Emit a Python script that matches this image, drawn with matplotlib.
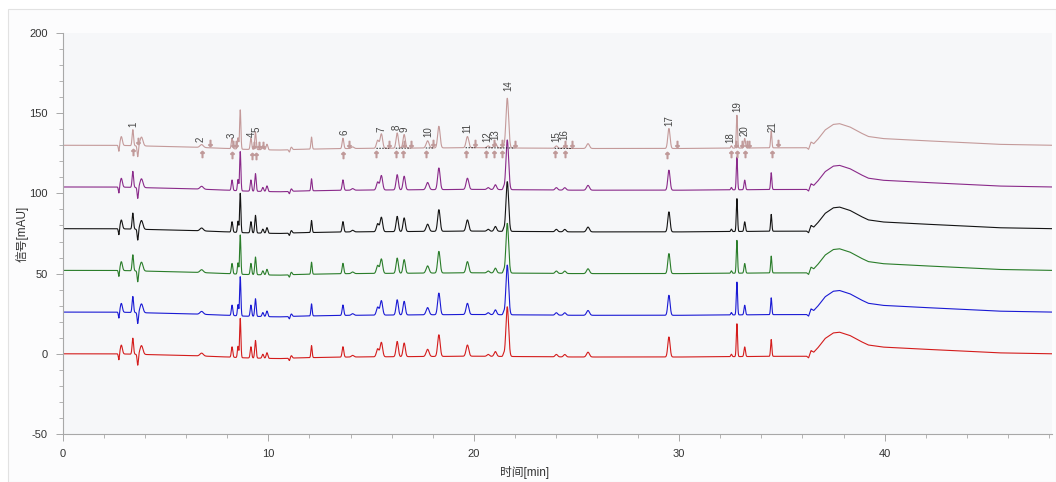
import numpy as np
import matplotlib
matplotlib.use("Agg")
import matplotlib.pyplot as plt
from matplotlib.patches import Rectangle
from matplotlib.ticker import MultipleLocator

plt.rcParams['font.family'] = ['Liberation Sans', 'Noto Sans CJK SC', 'DejaVu Sans']
plt.rcParams['axes.unicode_minus'] = False

# trace offsets (stacked view) and colours, bottom to top
offsets = [0, 26, 52, 78, 104, 130]
colors = ['#d41c1c', '#1a1ad4', '#2a7d2a', '#141414', '#8a2a8a', '#c49a9a']

# peak table: time [min], height [mAU], sigma [min]
peak_t = [2.72, 2.84, 3.40, 3.64, 3.82, 6.75, 8.23, 8.52, 8.63, 9.15, 9.37, 9.73, 9.93,
          11.02, 11.12, 12.10, 13.63, 14.10, 15.32, 15.50, 16.27, 16.61, 17.75, 18.30,
          19.69, 20.70, 21.05, 21.45, 21.63, 24.02, 24.43, 25.56, 29.50, 32.54, 32.81,
          33.19, 34.48]
peak_h = [-4.0, 5.5, 10.0, -7.0, 5.5, 1.8, 6.5, 7.0, 24.5, 7.0, 11.0, 2.5, 3.5,
          -1.5, 1.5, 7.5, 6.5, 1.0, 5.0, 9.0, 9.5, 8.5, 4.5, 13.5,
          7.0, 1.2, 3.0, 1.5, 31.0, 1.5, 1.5, 3.0, 12.5, 1.5, 20.5,
          6.0, 10.5]
peak_w = [0.025, 0.05, 0.035, 0.03, 0.07, 0.08, 0.035, 0.03, 0.03, 0.035, 0.035, 0.04, 0.04,
          0.03, 0.04, 0.03, 0.04, 0.06, 0.06, 0.06, 0.055, 0.055, 0.07, 0.06,
          0.065, 0.06, 0.06, 0.03, 0.065, 0.06, 0.06, 0.07, 0.055, 0.03, 0.03,
          0.035, 0.03]

# baseline drift and the late solvent hump, relative to each trace offset
base_t = [0, 2.6, 4.2, 6.0, 8.0, 8.8, 10.5, 11.5, 14.0, 20.0, 25.0, 30.0, 35.5, 36.2,
          36.3, 36.42, 36.55, 36.7, 36.8, 37.1, 37.5, 37.8, 38.3, 38.8, 39.2, 39.9,
          41.5, 43.9, 45.5, 48.2]
base_v = [0, 0, -0.5, -1.0, -2.0, -2.5, -3.0, -2.5, -2.0, -1.5, -2.0, -2.0, -1.5, -1.5,
          -2.5, 2.0, 1.0, 3.0, 4.5, 9.5, 13.0, 13.5, 11.5, 8.0, 5.5, 4.2,
          3.1, 1.7, 0.6, 0.0]

# peak labels on the top trace
label_txt = [str(i) for i in range(1, 22)]
label_t = [3.42, 6.72, 8.20, 9.21, 9.42, 13.69, 15.50, 16.24, 16.64, 17.78, 19.67, 20.65,
           21.07, 21.67, 24.02, 24.43, 29.50, 32.49, 32.81, 33.19, 34.56]
label_v = [143, 133.5, 136, 137, 140, 138, 140, 141, 140, 138.8, 140.5, 135.6,
           136.7, 167, 135.2, 136.7, 145.6, 135, 154.4, 139.4, 141.5]

# integration markers (start below, end above) and dotted baselines
mark_lo_t = [3.39, 6.78, 8.24, 9.18, 9.38, 13.64, 15.26, 16.20, 16.56, 17.66, 19.60, 20.57,
             20.98, 21.39, 23.94, 24.43, 29.40, 32.54, 32.81, 33.19, 34.53]
mark_hi_t = [3.67, 7.15, 8.28, 8.40, 9.30, 9.55, 9.75, 13.93, 15.88, 16.60, 16.93, 18.02,
             20.08, 20.98, 21.39, 22.00, 24.43, 24.80, 29.90, 32.78, 33.06, 33.30, 33.38, 34.81]
seg_t0 = [15.26, 16.20, 17.66, 19.60, 20.57, 23.94]
seg_t1 = [15.88, 16.93, 18.02, 20.08, 22.00, 24.80]


def trace(t):
    y = np.interp(t, base_t, base_v)
    for c, h, w in zip(peak_t, peak_h, peak_w):
        y = y + h * np.exp(-0.5 * ((t - c) / w) ** 2)
    return y


t = np.arange(0, 48.2, 0.004)
sig = trace(t)

fig = plt.figure(figsize=(10.56, 4.82), dpi=100)
frame = Rectangle((8 / 1056, 0), 1 - 8 / 1056, 1 - 9 / 482, transform=fig.transFigure,
                  facecolor='#fcfcfd', edgecolor='#e2e2e2', lw=0.8, zorder=-10)
fig.add_artist(frame)
ax = fig.add_axes([63 / 1056, 48 / 482, 989 / 1056, 401 / 482])
ax.set_zorder(1)
ax.set_facecolor('#f6f7f9')

for off, col in zip(offsets, colors):
    ax.plot(t, sig + off, color=col, lw=0.8)

top = offsets[-1]
lab_col = '#c09a9a'
for s, e in zip(seg_t0, seg_t1):
    ax.plot([s, e], [top + np.interp(s, base_t, base_v), top + np.interp(e, base_t, base_v)],
            ls=(0, (1.5, 1.5)), color='#222222', lw=0.7)
ax.plot(mark_lo_t, [top - 3.8 + np.interp(x, base_t, base_v) for x in mark_lo_t], ls='none',
        marker=r'$\uparrow$', ms=4.5, color=lab_col)
ax.plot(mark_hi_t, [top + 2.8 + np.interp(x, base_t, base_v) for x in mark_hi_t], ls='none',
        marker=r'$\downarrow$', ms=4.5, color=lab_col)
for s, x, v in zip(label_txt, label_t, label_v):
    ax.text(x, v, s, rotation=90, ha='center', va='center', fontsize=7, color='#444444')

ax.set_xlim(0, 48.15)
ax.set_ylim(-50, 200)
ax.xaxis.set_major_locator(MultipleLocator(10))
ax.xaxis.set_minor_locator(MultipleLocator(2))
ax.yaxis.set_major_locator(MultipleLocator(50))
ax.yaxis.set_minor_locator(MultipleLocator(10))
for side in ['top', 'right']:
    ax.spines[side].set_visible(False)
for side in ['left', 'bottom']:
    ax.spines[side].set_color('#a8a8a8')
    ax.spines[side].set_linewidth(0.8)
ax.tick_params(which='major', length=5, width=0.7, color='#a8a8a8', labelsize=8,
               labelcolor='#333333', pad=6)
ax.tick_params(which='minor', length=3, width=0.6, color='#a8a8a8')
ax.set_xlabel('时间[min]', fontsize=8.5, color='#333333')
ax.xaxis.set_label_coords(0.467, -0.08)
ax.set_ylabel('信号[mAU]', fontsize=8.5, color='#333333')
ax.yaxis.set_label_coords(-0.035, 0.5)

fig.savefig('out.png', dpi=100)
